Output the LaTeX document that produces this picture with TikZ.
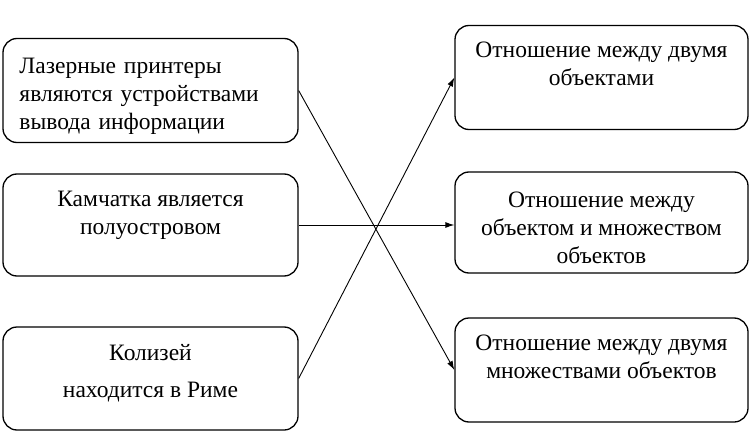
\documentclass[tikz,border=0pt]{standalone}
\usepackage{fontspec}
\setmainfont{Liberation Serif}
\usetikzlibrary{arrows.meta, calc, positioning}
\tikzset{
  box/.style={
    rectangle, rounded corners=14pt, draw=black, line width=1.3pt,
    minimum width=295pt, minimum height=104pt, align=center,
    font=\fontsize{23.5}{28}\selectfont
  },
  link/.style={
    -{Latex[length=9pt,width=6pt]}, line width=0.9pt
  }
}

\begin{document}
\begin{tikzpicture}[x=1pt,y=-1pt]
        \useasboundingbox (0,0) rectangle (752,433);
        % left column
        \node[box, text width=262pt, align=left, text height=27pt] (l0) at (150.5,90.5) {Лазерные принтеры\\являются устройствами\\вывода информации};
        \node[box, minimum height=102pt, text depth=25pt] (l1) at ($(l0)+(0,134.5)$) {Камчатка является\\полуостровом};
        \node[box, minimum height=103pt, text depth=16pt] (l2) at ($(l0)+(0,288)$) {Колизей\\[9pt]находится в Риме};
        % right column
        \node[box, minimum width=293pt, text depth=27pt] (r0) at (601.5,77.5) {Отношение между двумя\\объектами};
        \node[box, minimum width=293pt, minimum height=101pt, text height=82pt] (r1) at ($(r0)+(0,145)$) {Отношение между\\объектом и множеством\\объектов};
        \node[box, minimum width=293pt, text depth=27pt] (r2) at ($(r0)+(0,292.5)$) {Отношение между двумя\\множествами объектов};
        % links
        \draw[link] (l0.east) -- (r2.west);
        \draw[link] (l1.east) -- (l1.east -| r1.west);
        \draw[link] (l2.east) -- (r0.west);
    \end{tikzpicture}
\end{document}
